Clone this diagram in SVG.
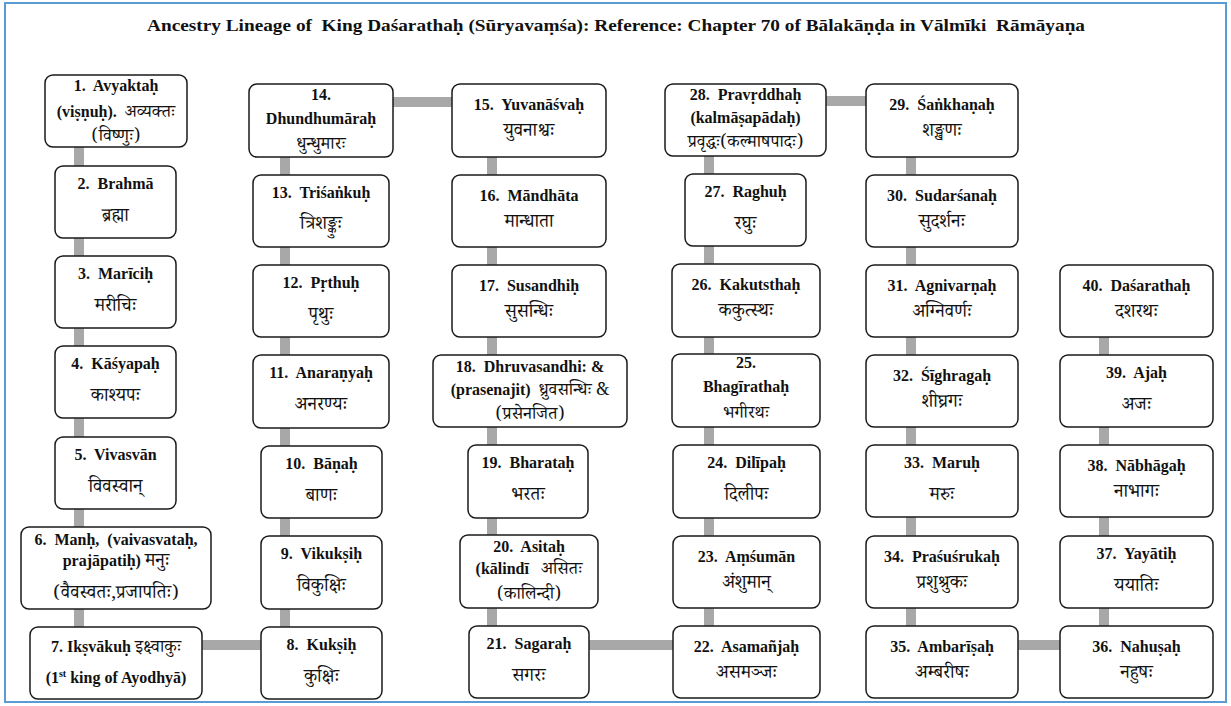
<svg xmlns="http://www.w3.org/2000/svg" width="1231" height="706" viewBox="0 0 1231 706">
  <defs>
    <style>
      .frame { fill: #ffffff; stroke: #5b9bd5; stroke-width: 2; }
      .box { fill: #ffffff; stroke: #1a1a1a; stroke-width: 1.5; }
      .conn { stroke: #a8a8a8; stroke-width: 10; fill: none; }
      text { font-size: 16px; text-anchor: middle; fill: #111; white-space: pre; }
      .b { font-weight: bold; }
      .d { font-family: 'Noto Serif Devanagari', 'Noto Sans Devanagari', 'Lohit Devanagari', serif; font-weight: normal; font-size: 18.5px; }
      .d3 { font-size: 17.5px; }
      .title { font-weight: bold; font-size: 17.5px; }
    </style>
  </defs>

  <rect class="frame" x="5" y="3" width="1221" height="699"/>

  <g font-family="Liberation Serif, DejaVu Serif, serif">
  <text class="title" x="616" y="31" textLength="938" lengthAdjust="spacingAndGlyphs">Ancestry Lineage of  King Daśarathaḥ (Sūryavaṃśa): Reference: Chapter 70 of Bālakāṇḍa in Vālmīki  Rāmāyaṇa</text>

  <!-- lineage connectors -->
  <g id="connectors">
    <line class="conn" x1="79" y1="147" x2="79" y2="166"/>
    <line class="conn" x1="79" y1="238" x2="79" y2="256"/>
    <line class="conn" x1="79" y1="328" x2="79" y2="346"/>
    <line class="conn" x1="79" y1="418" x2="79" y2="437"/>
    <line class="conn" x1="79" y1="509" x2="79" y2="527"/>
    <line class="conn" x1="79" y1="609" x2="79" y2="627"/>
    <line class="conn" x1="202" y1="645" x2="261" y2="645"/>
    <line class="conn" x1="285" y1="609" x2="285" y2="627"/>
    <line class="conn" x1="285" y1="518" x2="285" y2="536"/>
    <line class="conn" x1="285" y1="428" x2="285" y2="446"/>
    <line class="conn" x1="285" y1="337" x2="285" y2="355"/>
    <line class="conn" x1="285" y1="247" x2="285" y2="265"/>
    <line class="conn" x1="285" y1="157" x2="285" y2="175"/>
    <line class="conn" x1="393" y1="102" x2="452" y2="102"/>
    <line class="conn" x1="492" y1="157" x2="492" y2="175"/>
    <line class="conn" x1="492" y1="247" x2="492" y2="265"/>
    <line class="conn" x1="492" y1="337" x2="492" y2="355"/>
    <line class="conn" x1="492" y1="427" x2="492" y2="445"/>
    <line class="conn" x1="492" y1="518" x2="492" y2="535"/>
    <line class="conn" x1="492" y1="608" x2="492" y2="626"/>
    <line class="conn" x1="589" y1="645" x2="673" y2="645"/>
    <line class="conn" x1="709" y1="608" x2="709" y2="626"/>
    <line class="conn" x1="709" y1="518" x2="709" y2="536"/>
    <line class="conn" x1="709" y1="427" x2="709" y2="445"/>
    <line class="conn" x1="709" y1="337" x2="709" y2="354"/>
    <line class="conn" x1="709" y1="246" x2="709" y2="264"/>
    <line class="conn" x1="709" y1="156" x2="709" y2="174"/>
    <line class="conn" x1="826" y1="101" x2="866" y2="101"/>
    <line class="conn" x1="911" y1="157" x2="911" y2="175"/>
    <line class="conn" x1="911" y1="247" x2="911" y2="265"/>
    <line class="conn" x1="911" y1="337" x2="911" y2="355"/>
    <line class="conn" x1="911" y1="427" x2="911" y2="445"/>
    <line class="conn" x1="911" y1="517" x2="911" y2="536"/>
    <line class="conn" x1="911" y1="608" x2="911" y2="626"/>
    <line class="conn" x1="1018" y1="645" x2="1060" y2="645"/>
    <line class="conn" x1="1104" y1="608" x2="1104" y2="626"/>
    <line class="conn" x1="1104" y1="517" x2="1104" y2="536"/>
    <line class="conn" x1="1104" y1="427" x2="1104" y2="445"/>
    <line class="conn" x1="1104" y1="337" x2="1104" y2="355"/>
  </g>

  <!-- column 1 -->
  <g id="n1"><rect class="box" x="45" y="75" width="142" height="72" rx="8"/>
    <text x="116" y="91" class="b">1.  Avyaktaḥ</text>
    <text x="116" y="117"><tspan class="b">(viṣṇuḥ).  </tspan><tspan class="d d3">अव्यक्तः</tspan></text>
    <text x="116" y="141" class="d d3">(विष्णुः)</text></g>
  <g id="n2"><rect class="box" x="55" y="166" width="121" height="72" rx="8"/>
    <text x="115.5" y="189" class="b">2.  Brahmā</text>
    <text x="115.5" y="221" class="d">ब्रह्मा</text></g>
  <g id="n3"><rect class="box" x="55" y="256" width="121" height="72" rx="8"/>
    <text x="115.5" y="279" class="b">3.  Marīciḥ</text>
    <text x="115.5" y="311" class="d">मरीचिः</text></g>
  <g id="n4"><rect class="box" x="55" y="346" width="121" height="72" rx="8"/>
    <text x="115.5" y="369" class="b">4.  Kāśyapaḥ</text>
    <text x="115.5" y="401" class="d">काश्यपः</text></g>
  <g id="n5"><rect class="box" x="55" y="437" width="121" height="72" rx="8"/>
    <text x="115.5" y="460" class="b">5.  Vivasvān</text>
    <text x="115.5" y="492" class="d">विवस्वान्</text></g>
  <g id="n6"><rect class="box" x="21" y="527" width="190" height="82" rx="8"/>
    <text x="116" y="545" class="b">6.  Manḥ,  (vaivasvataḥ,</text>
    <text x="116" y="566"><tspan class="b">prajāpatiḥ) </tspan><tspan class="d" font-size="15">मनुः</tspan></text>
    <text x="116" y="598" class="d" font-size="15">(वैवस्वतः,प्रजापतिः)</text></g>
  <g id="n7"><rect class="box" x="30" y="627" width="172" height="72" rx="8"/>
    <text x="116" y="652"><tspan class="b">7. Ikṣvākuḥ </tspan><tspan class="d d3">इक्ष्वाकुः</tspan></text>
    <text x="116" y="683" class="b">(1<tspan font-size="10" dy="-6">st</tspan><tspan dy="6"> king of Ayodhyā)</tspan></text></g>

  <!-- column 2 -->
  <g id="n8"><rect class="box" x="261" y="627" width="121" height="72" rx="8"/>
    <text x="321.5" y="650" class="b">8.  Kukṣiḥ</text>
    <text x="321.5" y="682" class="d">कुक्षिः</text></g>
  <g id="n9"><rect class="box" x="261" y="536" width="121" height="73" rx="8"/>
    <text x="321.5" y="559" class="b">9.  Vikukṣiḥ</text>
    <text x="321.5" y="591" class="d">विकुक्षिः</text></g>
  <g id="n10"><rect class="box" x="261" y="446" width="121" height="72" rx="8"/>
    <text x="321.5" y="469" class="b">10.  Bāṇaḥ</text>
    <text x="321.5" y="501" class="d">बाणः</text></g>
  <g id="n11"><rect class="box" x="253" y="355" width="136" height="73" rx="8"/>
    <text x="321" y="378" class="b">11.  Anaraṇyaḥ</text>
    <text x="321" y="410" class="d">अनरण्यः</text></g>
  <g id="n12"><rect class="box" x="253" y="265" width="136" height="72" rx="8"/>
    <text x="321" y="288" class="b">12.  Pṛthuḥ</text>
    <text x="321" y="320" class="d">पृथुः</text></g>
  <g id="n13"><rect class="box" x="253" y="175" width="136" height="72" rx="8"/>
    <text x="321" y="198" class="b">13.  Triśaṅkuḥ</text>
    <text x="321" y="229" class="d">त्रिशङ्कुः</text></g>
  <g id="n14"><rect class="box" x="249" y="84" width="144" height="73" rx="8"/>
    <text x="321" y="100" class="b">14.</text>
    <text x="321" y="124" class="b">Dhundhumāraḥ</text>
    <text x="321" y="149" class="d d3">धुन्धुमारः</text></g>

  <!-- column 3 -->
  <g id="n15"><rect class="box" x="452" y="84" width="154" height="73" rx="8"/>
    <text x="529" y="110" class="b">15.  Yuvanāśvaḥ</text>
    <text x="529" y="136" class="d">युवनाश्वः</text></g>
  <g id="n16"><rect class="box" x="452" y="175" width="154" height="72" rx="8"/>
    <text x="529" y="201" class="b">16.  Māndhāta</text>
    <text x="529" y="227" class="d">मान्धाता</text></g>
  <g id="n17"><rect class="box" x="452" y="265" width="154" height="72" rx="8"/>
    <text x="529" y="291" class="b">17.  Susandhiḥ</text>
    <text x="529" y="317" class="d">सुसन्धिः</text></g>
  <g id="n18"><rect class="box" x="433" y="355" width="194" height="72" rx="8"/>
    <text x="530" y="372" class="b">18.  Dhruvasandhi: &amp;</text>
    <text x="530" y="395"><tspan class="b">(prasenajit)  </tspan><tspan class="d d3">ध्रुवसन्धिः &amp;</tspan></text>
    <text x="530" y="419" class="d d3">(प्रसेनजित)</text></g>
  <g id="n19"><rect class="box" x="468" y="445" width="120" height="73" rx="8"/>
    <text x="528" y="468" class="b">19.  Bharataḥ</text>
    <text x="528" y="500" class="d">भरतः</text></g>
  <g id="n20"><rect class="box" x="460" y="535" width="138" height="73" rx="8"/>
    <text x="529" y="552" class="b">20.  Asitaḥ</text>
    <text x="529" y="574"><tspan class="b">(kālindī   </tspan><tspan class="d d3">असितः</tspan></text>
    <text x="529" y="599" class="d d3">(कालिन्दी)</text></g>
  <g id="n21"><rect class="box" x="469" y="626" width="120" height="72" rx="8"/>
    <text x="529" y="649" class="b">21.  Sagaraḥ</text>
    <text x="529" y="681" class="d">सगरः</text></g>

  <!-- column 4 -->
  <g id="n22"><rect class="box" x="673" y="626" width="147" height="72" rx="8"/>
    <text x="746.5" y="652" class="b">22.  Asamañjaḥ</text>
    <text x="746.5" y="678" class="d">असमञ्जः</text></g>
  <g id="n23"><rect class="box" x="673" y="536" width="147" height="72" rx="8"/>
    <text x="746.5" y="562" class="b">23.  Aṃśumān</text>
    <text x="746.5" y="588" class="d">अंशुमान्</text></g>
  <g id="n24"><rect class="box" x="673" y="445" width="147" height="73" rx="8"/>
    <text x="746.5" y="468" class="b">24.  Dilīpaḥ</text>
    <text x="746.5" y="500" class="d">दिलीपः</text></g>
  <g id="n25"><rect class="box" x="672" y="354" width="148" height="73" rx="8"/>
    <text x="746" y="368" class="b">25.</text>
    <text x="746" y="392" class="b">Bhagīrathaḥ</text>
    <text x="746" y="418" class="d d3">भगीरथः</text></g>
  <g id="n26"><rect class="box" x="672" y="264" width="148" height="73" rx="8"/>
    <text x="746" y="290" class="b">26.  Kakutsthaḥ</text>
    <text x="746" y="316" class="d">ककुत्स्थः</text></g>
  <g id="n27"><rect class="box" x="685" y="174" width="121" height="72" rx="8"/>
    <text x="745.5" y="197" class="b">27.  Raghuḥ</text>
    <text x="745.5" y="229" class="d">रघुः</text></g>
  <g id="n28"><rect class="box" x="665" y="84" width="161" height="72" rx="8"/>
    <text x="745.5" y="100" class="b">28.  Pravṛddhaḥ</text>
    <text x="745.5" y="123" class="b">(kalmāṣapādaḥ)</text>
    <text x="745.5" y="147" class="d d3">प्रवृद्धः(कल्माषपादः)</text></g>

  <!-- column 5 -->
  <g id="n29"><rect class="box" x="866" y="84" width="152" height="73" rx="8"/>
    <text x="942" y="110" class="b">29.  Śaṅkhaṇaḥ</text>
    <text x="942" y="136" class="d">शङ्खणः</text></g>
  <g id="n30"><rect class="box" x="866" y="175" width="152" height="72" rx="8"/>
    <text x="942" y="201" class="b">30.  Sudarśanaḥ</text>
    <text x="942" y="227" class="d">सुदर्शनः</text></g>
  <g id="n31"><rect class="box" x="866" y="265" width="152" height="72" rx="8"/>
    <text x="942" y="291" class="b">31.  Agnivarṇaḥ</text>
    <text x="942" y="317" class="d">अग्निवर्णः</text></g>
  <g id="n32"><rect class="box" x="866" y="355" width="152" height="72" rx="8"/>
    <text x="942" y="381" class="b">32.  Śīghragaḥ</text>
    <text x="942" y="407" class="d">शीघ्रगः</text></g>
  <g id="n33"><rect class="box" x="866" y="445" width="152" height="72" rx="8"/>
    <text x="942" y="468" class="b">33.  Maruḥ</text>
    <text x="942" y="500" class="d">मरुः</text></g>
  <g id="n34"><rect class="box" x="866" y="536" width="152" height="72" rx="8"/>
    <text x="942" y="562" class="b">34.  Praśuśrukaḥ</text>
    <text x="942" y="588" class="d">प्रशुश्रुकः</text></g>
  <g id="n35"><rect class="box" x="866" y="626" width="152" height="72" rx="8"/>
    <text x="942" y="652" class="b">35.  Ambarīṣaḥ</text>
    <text x="942" y="678" class="d">अम्बरीषः</text></g>

  <!-- column 6 -->
  <g id="n36"><rect class="box" x="1060" y="626" width="153" height="72" rx="8"/>
    <text x="1136.5" y="652" class="b">36.  Nahuṣaḥ</text>
    <text x="1136.5" y="678" class="d">नहुषः</text></g>
  <g id="n37"><rect class="box" x="1060" y="536" width="153" height="72" rx="8"/>
    <text x="1136.5" y="559" class="b">37.  Yayātiḥ</text>
    <text x="1136.5" y="591" class="d">ययातिः</text></g>
  <g id="n38"><rect class="box" x="1060" y="445" width="153" height="72" rx="8"/>
    <text x="1136.5" y="471" class="b">38.  Nābhāgaḥ</text>
    <text x="1136.5" y="497" class="d">नाभागः</text></g>
  <g id="n39"><rect class="box" x="1060" y="355" width="153" height="72" rx="8"/>
    <text x="1136.5" y="378" class="b">39.  Ajaḥ</text>
    <text x="1136.5" y="410" class="d">अजः</text></g>
  <g id="n40"><rect class="box" x="1060" y="265" width="153" height="72" rx="8"/>
    <text x="1136.5" y="291" class="b">40.  Daśarathaḥ</text>
    <text x="1136.5" y="317" class="d">दशरथः</text></g>
  </g>
</svg>
